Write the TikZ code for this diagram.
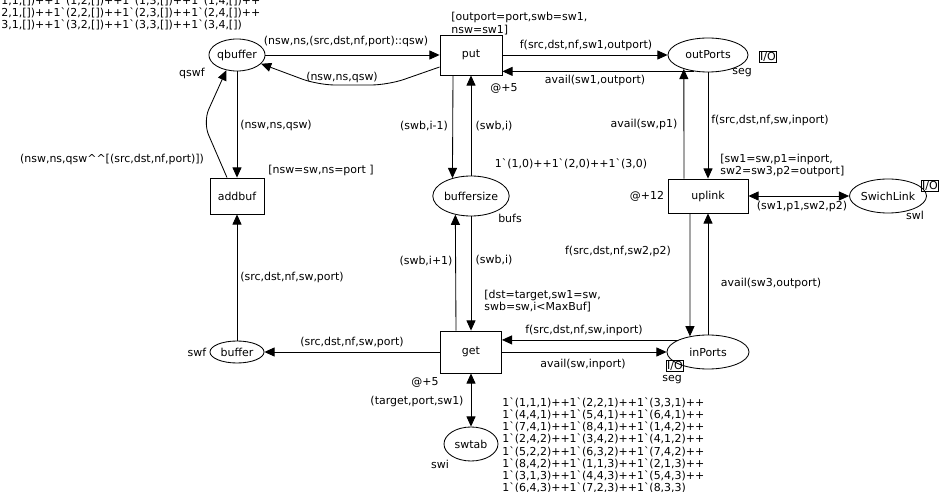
\documentclass[tikz,border=0pt]{standalone}
\usepackage{fontspec}
\newfontfamily\netfont{DejaVu Sans}
\usetikzlibrary{arrows.meta, shapes.geometric}

\begin{document}
\begin{tikzpicture}
		[x=0.025cm,y=-0.025cm,->,>={Triangle[length=7.2pt,width=6.4pt]},line width=0.6pt,
		every node/.style={font=\netfont\fontsize{7.8}{8.6}\selectfont},
		place/.style={ellipse,draw,inner sep=0pt},
		trans/.style={rectangle,draw,inner sep=0pt},
		lbl/.style={inner sep=0pt},
		iotag/.style={rectangle,draw,inner sep=0.6pt}]
		\useasboundingbox (0,0) rectangle (942,492);
		
		\node[place,minimum width=1.35cm,minimum height=0.8cm] (qbuffer) at (237,55) {qbuffer};
		\node[trans,minimum width=1.55cm,minimum height=1cm] (put) at (471,55) {put};
		\node[place,minimum width=2cm,minimum height=0.85cm] (outPorts) at (708,55) {outPorts};
		\node[trans,minimum width=1.35cm,minimum height=0.9cm] (addbuf) at (237,196) {addbuf};
		\node[place,minimum width=1.8cm,minimum height=1cm] (buffersize) at (471,196) {buffersize};
		\node[trans,minimum width=2cm,minimum height=0.85cm] (uplink) at (708,196) {uplink};
		\node[place,minimum width=1.775cm,minimum height=0.85cm] (SwichLink) at (888,196) {SwichLink};
		\node[place,minimum width=1.35cm,minimum height=0.55cm] (buffer) at (237,352) {buffer};
		\node[trans,minimum width=1.525cm,minimum height=1.05cm] (get) at (471,352) {get};
		\node[place,minimum width=2.05cm,minimum height=0.85cm] (inPorts) at (708,352) {inPorts};
		\node[place,minimum width=1.35cm,minimum height=0.85cm] (swtab) at (471,444) {swtab};
		
		\node[iotag] (io-out) at (768,57) {I/O};
		\node[iotag] (io-link) at (930,186) {I/O};
		\node[iotag] (io-in) at (675,366) {I/O};
		
		\node[lbl,anchor=north west,align=left] (init-q) at (1,-4.4)
		{1,1,[])++1`(1,2,[])++1`(1,3,[])++1`(1,4,[])++\\
		2,1,[])++1`(2,2,[])++1`(2,3,[])++1`(2,4,[])++\\
		3,1,[])++1`(3,2,[])++1`(3,3,[])++1`(3,4,[])};
		\node[lbl] (cs-q) at (192,73) {qswf};
		\node[lbl] (cs-b) at (197,352) {swf};
		\node[lbl] (cs-bs) at (510,218) {bufs};
		\node[lbl] (cs-out) at (742,73) {seg};
		\node[lbl] (cs-in) at (672,380) {seg};
		\node[lbl] (cs-link) at (915,215) {swl};
		\node[lbl] (cs-tab) at (440,464) {swi};
		\node[lbl] (t-put) at (504,88) {@+5};
		\node[lbl] (t-get) at (425,382) {@+5};
		\node[lbl] (t-up) at (647,196) {@+12};
		\node[lbl] (init-bs) at (571,164) {1`(1,0)++1`(2,0)++1`(3,0)};
		\node[lbl,anchor=north west,align=left] (init-tab) at (502,397.5)
		{1`(1,1,1)++1`(2,2,1)++1`(3,3,1)++\\
		1`(4,4,1)++1`(5,4,1)++1`(6,4,1)++\\
		1`(7,4,1)++1`(8,4,1)++1`(1,4,2)++\\
		1`(2,4,2)++1`(3,4,2)++1`(4,1,2)++\\
		1`(5,2,2)++1`(6,3,2)++1`(7,4,2)++\\
		1`(8,4,2)++1`(1,1,3)++1`(2,1,3)++\\
		1`(3,1,3)++1`(4,4,3)++1`(5,4,3)++\\
		1`(6,4,3)++1`(7,2,3)++1`(8,3,3)};
		
		\node[lbl,anchor=north west,align=left] (g-put) at (451,12.2) {[outport=port,swb=sw1,\\nsw=sw1]};
		\node[lbl] (g-add) at (321,170) {[nsw=sw,ns=port ]};
		\node[lbl,anchor=north west,align=left] (g-up) at (720,154) {[sw1=sw,p1=inport,\\sw2=sw3,p2=outport]};
		\node[lbl,anchor=north west,align=left] (g-get) at (484,289.7) {[dst=target,sw1=sw,\\swb=sw,i<MaxBuf]};
		
		\node[lbl] (a1) at (346,41) {(nsw,ns,(src,dst,nf,port)::qsw)};
		\node[lbl] (a2) at (342,77) {(nsw,ns,qsw)};
		\node[lbl] (a3) at (276,125) {(nsw,ns,qsw)};
		\node[lbl] (a4) at (112,159) {(nsw,ns,qsw\textasciicircum\textasciicircum[(src,dst,nf,port)])};
		\node[lbl] (a5) at (292,277) {(src,dst,nf,sw,port)};
		\node[lbl] (a6) at (352,342) {(src,dst,nf,sw,port)};
		\node[lbl] (a7) at (424,126) {(swb,i-1)};
		\node[lbl] (a8) at (494,126) {(swb,i)};
		\node[lbl] (a9) at (426,261) {(swb,i+1)};
		\node[lbl] (a10) at (494,260) {(swb,i)};
		\node[lbl] (a11) at (586,45) {f(src,dst,nf,sw1,outport)};
		\node[lbl] (a12) at (595,80) {avail(sw1,outport)};
		\node[lbl] (a13) at (644,124) {avail(sw,p1)};
		\node[lbl] (a14) at (770,120) {f(src,dst,nf,sw,inport)};
		\node[lbl] (a15) at (802,206) {(sw1,p1,sw2,p2)};
		\node[lbl] (a16) at (618,251) {f(src,dst,nf,sw2,p2)};
		\node[lbl] (a17) at (771,283) {avail(sw3,outport)};
		\node[lbl] (a18) at (584,330) {f(src,dst,nf,sw,inport)};
		\node[lbl] (a19) at (583,364) {avail(sw,inport)};
		\node[lbl] (a20) at (417,401) {(target,port,sw1)};
		
		\path (qbuffer) edge (put);
		\draw[rounded corners=12pt] ([yshift=-0.3cm]put.west) -- (388,85) -- (318,85) -- (qbuffer.-20);
		\path (qbuffer) edge (addbuf);
		\draw[rounded corners=10pt] ([xshift=-0.25cm]addbuf.north) -- (203,122) -- (qbuffer.-125);
		\path (buffer) edge (addbuf);
		\path (get) edge (buffer);
		\path ([xshift=-0.45cm]put.south) edge (buffersize.136);
		\path (buffersize) edge (put);
		\path (buffersize) edge (get);
		\path ([xshift=-0.375cm]get.north) edge (buffersize.-130);
		\path (put) edge (outPorts);
		\path (outPorts.-130) edge (outPorts.-130 -| put.east);
		\path ([xshift=-0.6cm]uplink.north) edge (outPorts.-150);
		\path (outPorts) edge (uplink);
		\path (uplink) edge[<->] (SwichLink);
		\path ([xshift=-0.45cm]uplink.south) edge (inPorts.139);
		\path (inPorts) edge (uplink);
		\path (inPorts.158) edge (inPorts.158 -| get.east);
		\path (get) edge (inPorts);
		\path (get) edge[<->] (swtab);
		
	\end{tikzpicture}
\end{document}
